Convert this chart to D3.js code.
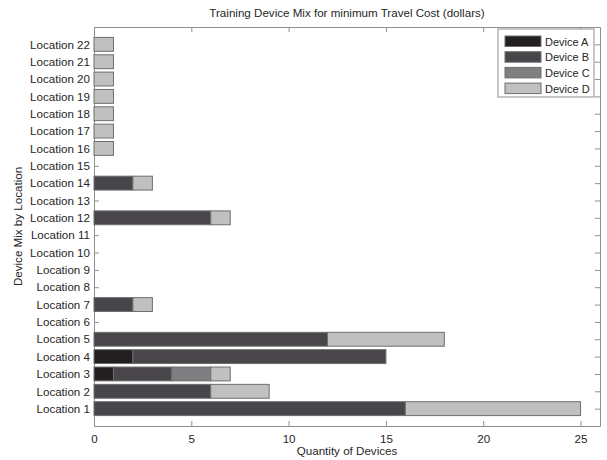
<!DOCTYPE html>
<html>
<head>
<meta charset="utf-8">
<script src="https://cdn.jsdelivr.net/npm/d3@7"></script>
<style>
  html, body { margin: 0; padding: 0; background: #fff; }
  svg { display: block; font-family: "Liberation Sans", Arial, sans-serif; }
</style>
</head>
<body>
<svg id="chart" width="607" height="460"></svg>
<script>
const locations = ["Location 1","Location 2","Location 3","Location 4","Location 5","Location 6","Location 7","Location 8","Location 9","Location 10","Location 11","Location 12","Location 13","Location 14","Location 15","Location 16","Location 17","Location 18","Location 19","Location 20","Location 21","Location 22"];
const deviceNames = ["Device A","Device B","Device C","Device D"];
const deviceA = [0,0,1,2,0,0,0,0,0,0,0,0,0,0,0,0,0,0,0,0,0,0];
const deviceB = [16,6,3,13,12,0,2,0,0,0,0,6,0,2,0,0,0,0,0,0,0,0];
const deviceC = [0,0,2,0,0,0,0,0,0,0,0,0,0,0,0,0,0,0,0,0,0,0];
const deviceD = [9,3,1,0,6,0,1,0,0,0,0,1,0,1,0,1,1,1,1,1,1,1];
const deviceColors = ["#231f20","#48464a","#7f7f81","#c0c0c0"];
const xTicks = [0,5,10,15,20,25];

const svg = d3.select("#chart");
const fs = "11.6px";
const m = {left: 94, right: 600, top: 27, bottom: 426};
const x = d3.scaleLinear().domain([0, 26]).range([m.left, m.right]);
const y = d3.scaleLinear().domain([0, 23]).range([m.bottom, m.top]);
const barH = 0.8 * (y(0) - y(1));
const axisColor = "#8f8f8f";
const textColor = "#262626";

const table = locations.map((loc, i) => ({loc, idx: i + 1, "Device A": deviceA[i], "Device B": deviceB[i], "Device C": deviceC[i], "Device D": deviceD[i]}));
const stacked = d3.stack().keys(deviceNames)(table);

// axes box
const tickLen = 5;
const gx = svg.append("g").attr("transform", `translate(0,${m.bottom})`)
  .call(d3.axisBottom(x).tickValues(xTicks).tickSize(-tickLen).tickPadding(9).tickSizeOuter(0));
const gxTop = svg.append("g").attr("transform", `translate(0,${m.top})`)
  .call(d3.axisTop(x).tickValues(xTicks).tickSize(-tickLen).tickFormat("").tickSizeOuter(0));
const gy = svg.append("g").attr("transform", `translate(${m.left},0)`)
  .call(d3.axisLeft(y).tickValues(d3.range(1, 23)).tickFormat(d => locations[d - 1]).tickSize(-tickLen).tickPadding(4).tickSizeOuter(0));
const gyR = svg.append("g").attr("transform", `translate(${m.right},0)`)
  .call(d3.axisRight(y).tickValues(d3.range(1, 23)).tickFormat("").tickSize(-tickLen).tickSizeOuter(0));
[gx, gxTop, gy, gyR].forEach(g => {
  g.selectAll("path.domain").attr("stroke", axisColor);
  g.selectAll(".tick line").attr("stroke", axisColor);
  g.selectAll(".tick text").attr("fill", textColor).style("font-size", fs).style("font-family", '"Liberation Sans", Arial, sans-serif');
});

// bars
stacked.forEach((layer, k) => {
  svg.append("g").selectAll("rect")
    .data(layer.filter(d => d[1] - d[0] > 0))
    .join("rect")
    .attr("x", d => x(d[0]))
    .attr("y", d => y(d.data.idx) - barH / 2)
    .attr("width", d => x(d[1]) - x(d[0]))
    .attr("height", barH)
    .attr("fill", deviceColors[k])
    .attr("stroke", "#6e6e6e")
    .attr("stroke-width", 1);
});

// title & labels
svg.append("text").attr("x", (m.left + m.right) / 2).attr("y", 17).attr("text-anchor", "middle")
  .attr("fill", textColor).style("font-size", fs).text("Training Device Mix for minimum Travel Cost (dollars)");
svg.append("text").attr("x", (m.left + m.right) / 2).attr("y", 455).attr("text-anchor", "middle")
  .attr("fill", textColor).style("font-size", fs).text("Quantity of Devices");
svg.append("text").attr("transform", `translate(22,${(m.top + m.bottom) / 2}) rotate(-90)`).attr("text-anchor", "middle")
  .attr("fill", textColor).style("font-size", fs).text("Device Mix by Location");

// legend
const lg = svg.append("g").attr("transform", "translate(498,29)");
lg.append("rect").attr("width", 96).attr("height", 68).attr("fill", "#fff").attr("stroke", axisColor);
deviceNames.forEach((name, k) => {
  const row = lg.append("g").attr("transform", `translate(0,${7 + k * 15.7})`);
  row.append("rect").attr("x", 7).attr("y", 0).attr("width", 36).attr("height", 10.5)
    .attr("fill", deviceColors[k]).attr("stroke", "#6e6e6e");
  row.append("text").attr("x", 47).attr("y", 9.5).attr("fill", textColor).style("font-size", "11px").text(name);
});
</script>
</body>
</html>
